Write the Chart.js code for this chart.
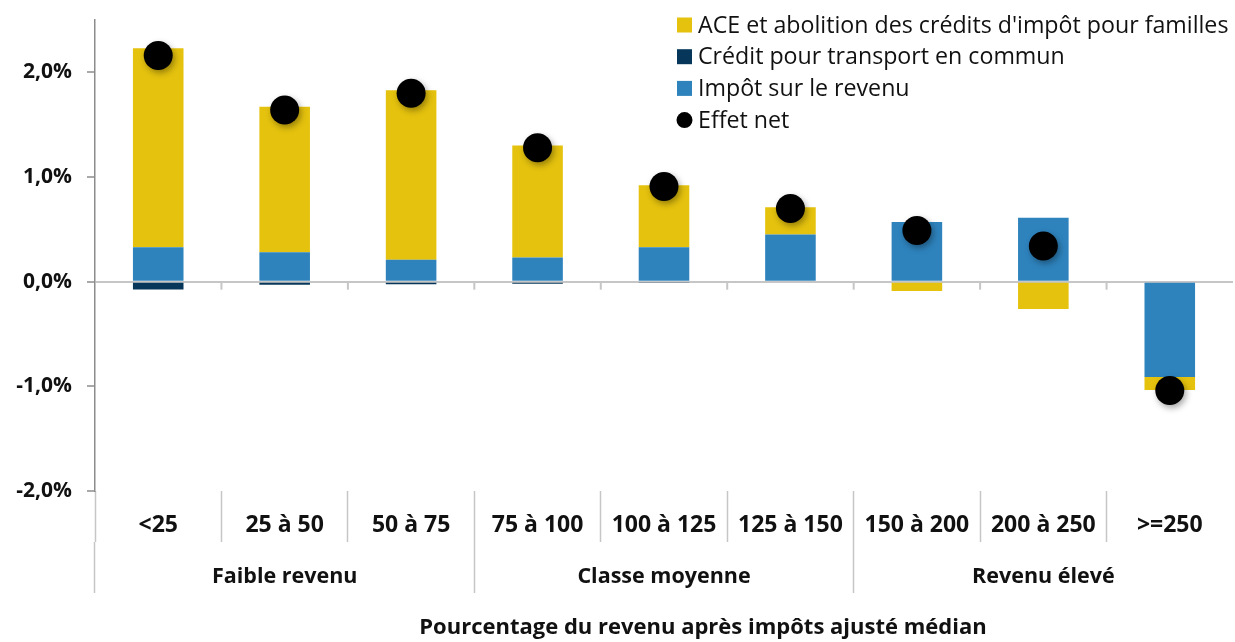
<!DOCTYPE html>
<html lang="fr">
<head>
<meta charset="UTF-8">
<meta name="viewport" content="width=device-width, initial-scale=1.0">
<title>Effet net selon le revenu</title>
<script src="https://cdn.jsdelivr.net/npm/chart.js"></script>
<style>
    html, body {
        margin: 0;
        padding: 0;
        overflow: hidden;
        background: #fff;
    }
    #chartWrap {
        position: relative;
        width: 1235px;
        height: 642px;
    }
</style>
</head>
<body>
<div id="chartWrap"><canvas id="effetChart"></canvas></div>
<script>
    // categories (revenu en % du revenu médian ajusté)
    const categories = ['<25', '25 à 50', '50 à 75', '75 à 100', '100 à 125', '125 à 150', '150 à 200', '200 à 250', '>=250'];
    const groups = ['Faible revenu', 'Classe moyenne', 'Revenu élevé'];

    // series, in % of after-tax income
    const impotRevenu = [0.33, 0.28, 0.21, 0.23, 0.33, 0.45, 0.57, 0.61, -0.91];
    const creditTransport = [-0.075, -0.03, -0.025, -0.02, -0.012, -0.01, 0, 0, 0];
    const aceAbolition = [1.90, 1.39, 1.62, 1.07, 0.59, 0.26, -0.09, -0.26, -0.125];
    const effetNet = [2.16, 1.64, 1.80, 1.28, 0.91, 0.70, 0.49, 0.34, -1.04];

    const yTicks = [-2, -1, 0, 1, 2];
    const axisTitle = 'Pourcentage du revenu après impôts ajusté médian';

    const FONT = '"Open Sans", Lato, sans-serif';
    const YELLOW = '#e5c20e';
    const NAVY = '#06375a';
    const BLUE = '#2e83bd';
    const AXIS_GREY = '#8c8c8c';
    const LIGHT_GREY = '#c6c6c6';

    const fmtPct = v => v.toFixed(1).replace('.', ',') + '%';

    // legend order differs from stacking order
    const legendOrder = [2, 1, 0, 3];

    const extrasPlugin = {
        id: 'extras',
        beforeDatasetDraw(chart, args) {
            if (args.meta.type === 'line') {
                const ctx = chart.ctx;
                ctx.save();
                ctx.shadowColor = 'rgba(0, 0, 0, 0.35)';
                ctx.shadowBlur = 6;
                ctx.shadowOffsetX = 2;
                ctx.shadowOffsetY = 3;
            }
        },
        afterDatasetDraw(chart, args) {
            if (args.meta.type === 'line') chart.ctx.restore();
        },
        afterDraw(chart) {
            const ctx = chart.ctx;
            const x = chart.scales.x;
            const y = chart.scales.y;
            const area = chart.chartArea;

            // small ticks on the zero line between categories
            const y0 = y.getPixelForValue(0);
            ctx.save();
            ctx.strokeStyle = LIGHT_GREY;
            ctx.lineWidth = 2;
            for (let i = 1; i < categories.length; i++) {
                const bx = (x.getPixelForTick(i - 1) + x.getPixelForTick(i)) / 2;
                ctx.beginPath();
                ctx.moveTo(bx, y0);
                ctx.lineTo(bx, y0 + 8);
                ctx.stroke();
            }
            ctx.restore();

            // legend, top right inside plot
            ctx.save();
            ctx.font = '23.2px ' + FONT;
            ctx.textBaseline = 'middle';
            const lx = 677;
            legendOrder.forEach((di, k) => {
                const ds = chart.data.datasets[di];
                const cy = 25 + k * 31.7;
                ctx.fillStyle = ds.backgroundColor;
                if (ds.type === 'line') {
                    ctx.beginPath();
                    ctx.arc(lx + 7.5, cy, 8, 0, Math.PI * 2);
                    ctx.fill();
                } else {
                    ctx.fillRect(lx, cy - 7.5, 15, 15);
                }
                ctx.fillStyle = '#111';
                ctx.fillText(ds.label, lx + 21, cy + 1);
            });
            ctx.restore();

            // axis title
            ctx.save();
            ctx.font = 'bold 22px ' + FONT;
            ctx.fillStyle = '#111';
            ctx.textAlign = 'center';
            ctx.textBaseline = 'middle';
            ctx.fillText(axisTitle, (area.left + area.right) / 2 + 39, 628);
            ctx.restore();
        }
    };

    const sepColor = ctx => (ctx.type === 'tick' ? LIGHT_GREY : 'rgba(0,0,0,0)');
    const noSidePad = s => { s.paddingLeft = 0; s.paddingRight = 0; };

    const ctx = document.getElementById('effetChart').getContext('2d');
    const chart = new Chart(ctx, {
        type: 'bar',
        data: {
            labels: categories,
            datasets: [
                {
                    label: 'Impôt sur le revenu',
                    data: impotRevenu,
                    backgroundColor: BLUE,
                    order: 1
                },
                {
                    label: 'Crédit pour transport en commun',
                    data: creditTransport,
                    backgroundColor: NAVY,
                    order: 1
                },
                {
                    label: "ACE et abolition des crédits d'impôt pour familles",
                    data: aceAbolition,
                    backgroundColor: YELLOW,
                    order: 1
                },
                {
                    type: 'line',
                    label: 'Effet net',
                    data: effetNet,
                    stack: 'net',
                    showLine: false,
                    backgroundColor: '#000',
                    borderColor: '#000',
                    pointRadius: 14.5,
                    pointHoverRadius: 14.5,
                    pointBorderWidth: 0,
                    order: 0
                }
            ]
        },
        options: {
            responsive: true,
            maintainAspectRatio: false,
            animation: false,
            datasets: {
                bar: {
                    categoryPercentage: 0.8,
                    barPercentage: 0.5
                }
            },
            layout: {
                autoPadding: false,
                padding: { top: 20, right: 2, left: 0, bottom: 49 }
            },
            plugins: {
                legend: { display: false },
                tooltip: { enabled: false }
            },
            scales: {
                x: {
                    stacked: true,
                    offset: true,
                    border: { display: false },
                    grid: {
                        offset: true,
                        drawOnChartArea: false,
                        drawTicks: true,
                        tickLength: 51,
                        tickWidth: 1.5,
                        tickColor: sepColor
                    },
                    ticks: {
                        autoSkip: false,
                        maxRotation: 0,
                        padding: -30,
                        color: '#111',
                        font: { family: FONT, size: 23, weight: 'bold' }
                    },
                    afterFit: s => { s.height = 51; noSidePad(s); }
                },
                x2: {
                    type: 'category',
                    labels: groups,
                    position: 'bottom',
                    weight: 1,
                    offset: true,
                    border: { display: false },
                    grid: {
                        offset: true,
                        drawOnChartArea: false,
                        drawTicks: true,
                        tickLength: 51,
                        tickWidth: 1.5,
                        tickColor: sepColor
                    },
                    ticks: {
                        autoSkip: false,
                        maxRotation: 0,
                        padding: -29,
                        color: '#111',
                        font: { family: FONT, size: 21.5, weight: 'bold' }
                    },
                    afterFit: s => { s.height = 51; noSidePad(s); }
                },
                y: {
                    stacked: true,
                    min: -2,
                    max: 2.5,
                    z: 1,
                    border: { display: true, color: AXIS_GREY, width: 1.5 },
                    grid: {
                        color: c => (c.tick && c.tick.value === 0 ? LIGHT_GREY : 'rgba(0,0,0,0)'),
                        lineWidth: 2,
                        drawTicks: true,
                        tickLength: 8,
                        tickColor: AXIS_GREY,
                        tickWidth: 1.5
                    },
                    ticks: {
                        stepSize: 1,
                        padding: 15,
                        color: '#111',
                        font: { family: FONT, size: 21, weight: 'bold' },
                        callback: v => fmtPct(v)
                    },
                    afterBuildTicks: s => {
                        s.ticks = yTicks.map(v => ({ value: v }));
                    },
                    afterFit: s => { s.width = 95; s.paddingTop = 0; s.paddingBottom = 0; }
                }
            }
        },
        plugins: [extrasPlugin]
    });
</script>
</body>
</html>
